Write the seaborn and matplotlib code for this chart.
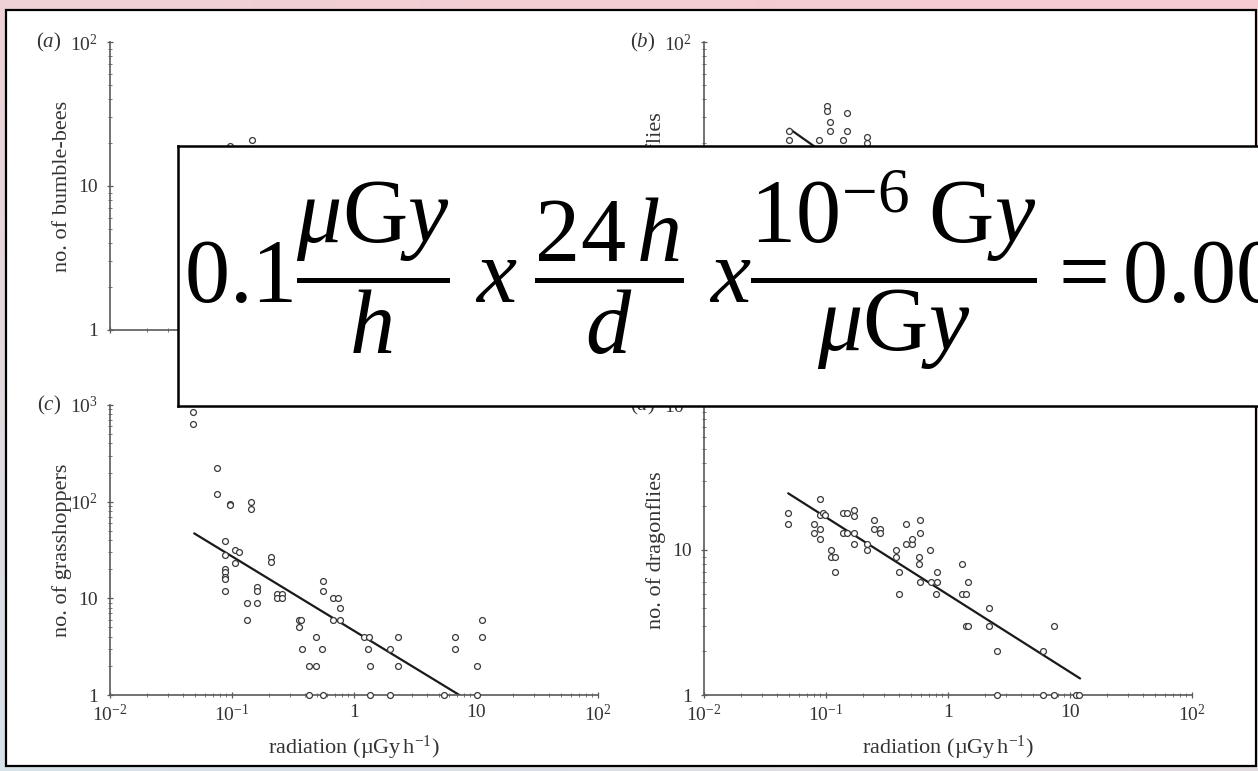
import numpy as np
import pandas as pd
import matplotlib.pyplot as plt
import matplotlib.ticker as ticker
from matplotlib.patches import Rectangle
import seaborn as sns

# counts per site vs. radiation (zero counts sit on the y=1 axis)
bee_x = [0.146, 0.096]
bee_y = [21, 19]
bee_fit_x = [0.05, 12]
bee_fit_y = [15, 1.5]

fly_x = [0.050, 0.050, 0.088, 0.102, 0.102, 0.108, 0.108, 0.148, 0.148, 0.139, 0.215, 0.215]
fly_y = [24, 21, 21, 36, 33, 28, 24, 32, 24, 21, 22, 20]
fly_fit_x = [0.05, 10]
fly_fit_y = [25, 1.05]

hop_x = [0.048, 0.048, 0.076, 0.076, 0.096, 0.096, 0.143, 0.143, 0.087, 0.087,
         0.087, 0.087, 0.087, 0.087, 0.087, 0.105, 0.115, 0.105, 0.207, 0.207,
         0.161, 0.161, 0.132, 0.161, 0.132, 0.234, 0.257, 0.234, 0.257, 0.557,
         0.557, 0.668, 0.735, 0.767, 0.668, 0.767, 0.356, 0.370, 0.356, 0.484,
         0.372, 0.550, 0.425, 0.484, 1.21, 1.32, 1.30, 1.35, 1.98, 2.31,
         2.31, 6.76, 6.76, 11.1, 11.1, 10.2,
         0.425, 0.557, 1.35, 1.98, 5.5, 10.2]
hop_y = [840, 636, 225, 119, 95, 92, 100, 83, 39, 28,
         20, 18.6, 16.7, 15.8, 12, 32, 30, 23, 27, 23.6,
         13, 12, 9, 9, 6, 11, 11, 10, 10, 15,
         12, 10, 10, 8, 6, 6, 6, 6, 5, 4,
         3, 3, 2, 2, 4, 4, 3, 2, 3, 4,
         2, 4, 3, 6, 4, 2,
         1, 1, 1, 1, 1, 1]
hop_fit_x = [0.049, 7.3]
hop_fit_y = [47, 1]

drag_x = [0.049, 0.049, 0.089, 0.089, 0.095, 0.099, 0.079, 0.079, 0.089, 0.089,
          0.109, 0.109, 0.119, 0.119, 0.139, 0.148, 0.169, 0.169, 0.139, 0.148,
          0.169, 0.169, 0.216, 0.216, 0.246, 0.246, 0.277, 0.277, 0.375, 0.375,
          0.394, 0.394, 0.455, 0.455, 0.509, 0.509, 0.589, 0.589, 0.58, 0.58,
          0.716, 0.589, 0.72, 0.807, 0.81, 0.80, 1.30, 1.30, 1.40, 1.45,
          1.40, 1.45, 2.15, 2.15, 2.51, 6.04, 7.43,
          2.51, 6.04, 7.43, 11.1, 11.9]
drag_y = [18, 15, 22.4, 17.4, 18, 17.4, 15, 13, 14, 12,
          10, 9, 9, 7, 18, 18, 19, 17.2, 13, 13,
          13, 11, 11, 10, 16, 14, 14, 13, 10, 9,
          7, 5, 15, 11, 11, 12, 16, 13, 9, 8,
          10, 6, 6, 6, 7, 5, 8, 5, 5, 6,
          3, 3, 4, 3, 2, 2, 3,
          1, 1, 1, 1, 1]
drag_fit_x = [0.049, 12.1]
drag_fit_y = [24.6, 1.3]

x_ticks = [1e-2, 1e-1, 1, 10, 1e2]

sns.set_theme(style='ticks')
plt.rcParams['font.family'] = ['Liberation Serif', 'DejaVu Serif']
plt.rcParams['mathtext.fontset'] = 'custom'
plt.rcParams['mathtext.rm'] = 'Liberation Serif'
plt.rcParams['mathtext.it'] = 'Liberation Serif:italic'
plt.rcParams['mathtext.bf'] = 'Liberation Serif:bold'

W, H = 1258, 771
fig = plt.figure(figsize=(W / 100, H / 100), dpi=100)

# pinkish / blue-grey background behind the white page
bg = fig.add_axes([0, 0, 1, 1], zorder=-5)
gy, gx = np.mgrid[0:1:60j, 0:1:60j]
t = np.clip(0.75 * gy + 0.35 * gx, 0, 1)[..., None]
top = np.array([246, 204, 208]) / 255
bot = np.array([214, 226, 232]) / 255
bg.imshow(bot * (1 - t) + top * t, aspect='auto', extent=[0, 1, 0, 1], origin='lower')
bg.axis('off')

fig.patches.append(Rectangle((6 / W, 5 / H), 1250 / W, 756 / H, transform=fig.transFigure,
                             facecolor='white', edgecolor='black', lw=1.6, zorder=-4))


def tick_fmt(v, pos):
    e = int(round(np.log10(v)))
    if e == 0:
        return '1'
    if e == 1:
        return '10'
    return r'$10^{%d}$' % e


def panel(rect, xs, ys, fx, fy, ylab, letter, ytop, bottom_row):
    ax = fig.add_axes(rect, zorder=1)
    ax.patch.set_alpha(0)
    sns.scatterplot(x=xs, y=ys, ax=ax, marker='o', s=18, color='white',
                    edgecolor='#3a3a3a', linewidth=0.9, clip_on=False, zorder=3)
    sns.lineplot(x=fx, y=fy, ax=ax, color='#1a1a1a', lw=1.6, zorder=2)
    ax.set(xscale='log', yscale='log', xlim=(1e-2, 1e2), ylim=(1, ytop))
    sns.despine(ax=ax)
    for s in ['left', 'bottom']:
        ax.spines[s].set_color('#5a5a5a')
        ax.spines[s].set_linewidth(1.2)
    ax.xaxis.set_major_locator(ticker.FixedLocator(x_ticks))
    ax.yaxis.set_major_locator(ticker.LogLocator(base=10, numticks=10))
    ax.xaxis.set_minor_locator(ticker.LogLocator(base=10, subs=np.arange(2, 10), numticks=20))
    ax.yaxis.set_minor_locator(ticker.LogLocator(base=10, subs=np.arange(2, 10), numticks=20))
    ax.xaxis.set_major_formatter(ticker.FuncFormatter(tick_fmt))
    ax.yaxis.set_major_formatter(ticker.FuncFormatter(tick_fmt))
    ax.xaxis.set_minor_formatter(ticker.NullFormatter())
    ax.yaxis.set_minor_formatter(ticker.NullFormatter())
    ax.tick_params(which='major', direction='inout', length=5, width=0.9, color='#5a5a5a',
                   labelsize=14, pad=4)
    ax.tick_params(which='minor', direction='inout', length=3, width=0.7, color='#777777')
    ax.tick_params(axis='y', which='major', pad=6)
    ax.set_ylabel(ylab, fontsize=16, color='#333333', labelpad=-1)
    if bottom_row:
        ax.set_xlabel(r'radiation (µGy$\,$h$^{-1}$)', fontsize=16, color='#333333', labelpad=6)
    else:
        ax.tick_params(axis='x', labelbottom=False)
    for lab in ax.get_xticklabels() + ax.get_yticklabels():
        lab.set_color('#333333')
    ax.text(-0.125, 1.0, r'($\mathit{%s}$)' % letter, transform=ax.transAxes,
            ha='center', va='center', fontsize=15, color='#333333')
    return ax


panel([110 / W, (H - 330) / H, 488 / W, 288 / H], bee_x, bee_y, bee_fit_x, bee_fit_y,
      'no. of bumble-bees', 'a', 100, False)
panel([704 / W, (H - 330) / H, 488 / W, 288 / H], fly_x, fly_y, fly_fit_x, fly_fit_y,
      'no. of butterflies', 'b', 100, False)
panel([110 / W, (H - 695) / H, 488 / W, 290 / H], hop_x, hop_y, hop_fit_x, hop_fit_y,
      'no. of grasshoppers', 'c', 1000, True)
panel([704 / W, (H - 695) / H, 488 / W, 290 / H], drag_x, drag_y, drag_fit_x, drag_fit_y,
      'no. of dragonflies', 'd', 100, True)

# unit-conversion box laid over the figure
box = fig.add_axes([178 / W, (H - 406) / H, 1200 / W, 260 / H], zorder=10)
box.set_facecolor('white')
box.set_xticks([])
box.set_yticks([])
for s in box.spines.values():
    s.set_color('black')
    s.set_linewidth(1.8)
formula = (r'$0.1\dfrac{\mu \mathrm{G}y}{h}\;x\;\dfrac{24\,h}{d}\;x\dfrac{10^{-6}\;\mathrm{G}y}'
           r'{\mu \mathrm{G}y} = 0.0000024\;\mathrm{G}y/d$')
box.text(0.005, 0.52, formula, transform=box.transAxes, ha='left', va='center',
         fontsize=65, color='black')

fig.savefig('out.png', dpi=100)
